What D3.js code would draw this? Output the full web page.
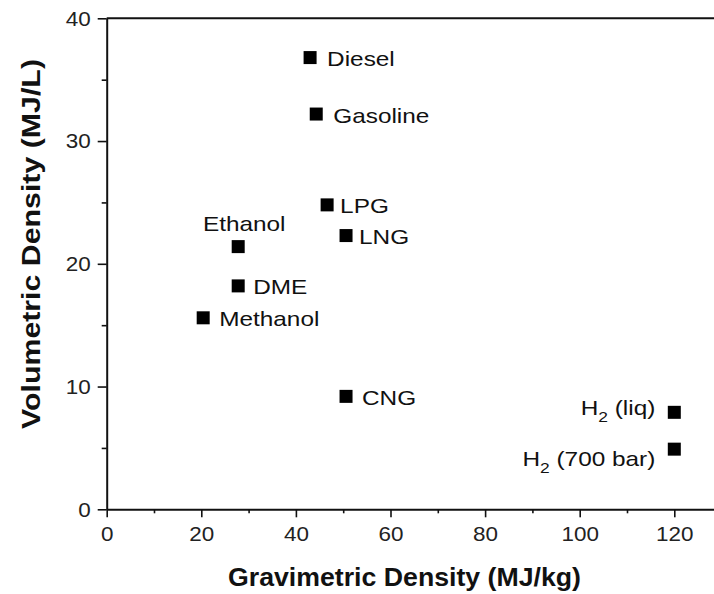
<!DOCTYPE html>
<html>
<head>
<meta charset="utf-8">
<script src="https://cdn.jsdelivr.net/npm/d3@7"></script>
<style>
  html, body { margin: 0; padding: 0; background: #fff; }
  svg { display: block; font-family: "Liberation Sans", Arial, sans-serif; }
</style>
</head>
<body>
<svg id="chart" width="714" height="594"></svg>
<script>
// Fuel energy densities
const fuels       = ["Diesel", "Gasoline", "LPG", "LNG", "Ethanol", "DME", "Methanol", "CNG", "H2 (liq)", "H2 (700 bar)"];
const gravimetric = [43.0, 44.3, 46.6, 50.6, 27.8, 27.8, 20.4, 50.6, 120, 120];   // MJ/kg
const volumetric  = [36.8, 32.2, 24.8, 22.3, 21.4, 18.2, 15.6, 9.2, 7.9, 4.9];    // MJ/L

const xTicks = [0, 20, 40, 60, 80, 100, 120];
const xMinor = [10, 30, 50, 70, 90, 110];
const yTicks = [0, 10, 20, 30, 40];
const yMinor = [5, 15, 25, 35];

const svg = d3.select("#chart");
const plotLeft = 106.7, plotBottom = 509.3, plotTop = 18.3;
const textStretch = 1.16;   // glyphs are drawn slightly wide

const x = d3.scaleLinear().domain([0, 130]).range([plotLeft, plotLeft + 130 * 4.73]);
const y = d3.scaleLinear().domain([0, 40]).range([plotBottom, plotTop]);

// frame top edge
svg.append("line")
  .attr("x1", x(0)).attr("x2", x(130))
  .attr("y1", y(40)).attr("y2", y(40))
  .attr("stroke", "#111").attr("stroke-width", 2);

// x axis
svg.append("g").attr("class", "major").attr("transform", `translate(0,${plotBottom})`)
  .call(d3.axisBottom(x).tickValues(xTicks).tickSize(8).tickPadding(9).tickSizeOuter(0));
svg.append("g").attr("transform", `translate(0,${plotBottom})`)
  .call(d3.axisBottom(x).tickValues(xMinor).tickSize(4).tickFormat("").tickSizeOuter(0))
  .select(".domain").remove();

// y axis
svg.append("g").attr("class", "major").attr("transform", `translate(${plotLeft},0)`)
  .call(d3.axisLeft(y).tickValues(yTicks).tickSize(9).tickPadding(7).tickSizeOuter(0));
svg.append("g").attr("transform", `translate(${plotLeft},0)`)
  .call(d3.axisLeft(y).tickValues(yMinor).tickSize(5).tickFormat("").tickSizeOuter(0))
  .select(".domain").remove();

svg.selectAll(".domain").attr("stroke", "#111").attr("stroke-width", 2);
svg.selectAll(".tick line").attr("stroke", "#111").attr("stroke-width", 1.6);
svg.selectAll(".tick text")
  .attr("fill", "#222")
  .style("font-size", "21px")
  .style("font-family", "'Liberation Sans', Arial, sans-serif");
// widen tick labels about their anchor point
svg.selectAll(".major .tick text").each(function() {
  const t = d3.select(this);
  const tx = +t.attr("x") || 0;
  t.attr("transform", `translate(${tx},0) scale(1.07,1) translate(${-tx},0)`);
});

// axis titles
svg.append("text")
  .attr("x", 404.5).attr("y", 586)
  .attr("text-anchor", "middle")
  .attr("textLength", 353).attr("lengthAdjust", "spacingAndGlyphs")
  .style("font-size", "25px").style("font-weight", "bold")
  .attr("fill", "#111")
  .text("Gravimetric Density (MJ/kg)");

svg.append("text")
  .attr("transform", "translate(40,244) rotate(-90)")
  .attr("text-anchor", "middle")
  .attr("textLength", 370).attr("lengthAdjust", "spacingAndGlyphs")
  .style("font-size", "26px").style("font-weight", "bold")
  .attr("fill", "#111")
  .text("Volumetric Density (MJ/L)");

// markers
const data = fuels.map((name, i) => ({ name, gx: gravimetric[i], vy: volumetric[i] }));
const ms = 13;

svg.append("g").selectAll("rect").data(data).join("rect")
  .attr("x", d => x(d.gx) - ms / 2)
  .attr("y", d => y(d.vy) - ms / 2)
  .attr("width", ms).attr("height", ms)
  .attr("fill", "#000");

// label placement relative to each marker: offset and text anchor
const labelPlace = {
  "Diesel":       { dx: 17,  dy: 8.5, anchor: "start" },
  "Gasoline":     { dx: 17,  dy: 8.5, anchor: "start" },
  "LPG":          { dx: 13,  dy: 8.5, anchor: "start" },
  "LNG":          { dx: 13,  dy: 8.5, anchor: "start" },
  "Ethanol":      { dx: 6,   dy: -16, anchor: "middle" },
  "DME":          { dx: 15,  dy: 8.5, anchor: "start" },
  "Methanol":     { dx: 16,  dy: 8.5, anchor: "start" },
  "CNG":          { dx: 16,  dy: 8.5, anchor: "start" },
  "H2 (liq)":     { dx: -19, dy: 3,   anchor: "end" },
  "H2 (700 bar)": { dx: -19, dy: 17,  anchor: "end" }
};

const labels = svg.append("g").selectAll("text").data(data).join("text")
  .style("font-size", "21px")
  .attr("fill", "#111")
  .attr("text-anchor", d => labelPlace[d.name].anchor)
  .attr("transform", d => {
    const p = labelPlace[d.name];
    return `translate(${x(d.gx) + p.dx},${y(d.vy) + p.dy}) scale(${textStretch},1)`;
  });

labels.each(function(d) {
  const t = d3.select(this);
  const m = d.name.match(/^H2(.*)$/);
  if (m) {
    t.append("tspan").text("H");
    t.append("tspan").attr("dy", 7).style("font-size", "15px").text("2");
    t.append("tspan").attr("dy", -7).text(m[1]);
  } else {
    t.text(d.name);
  }
});
</script>
</body>
</html>
